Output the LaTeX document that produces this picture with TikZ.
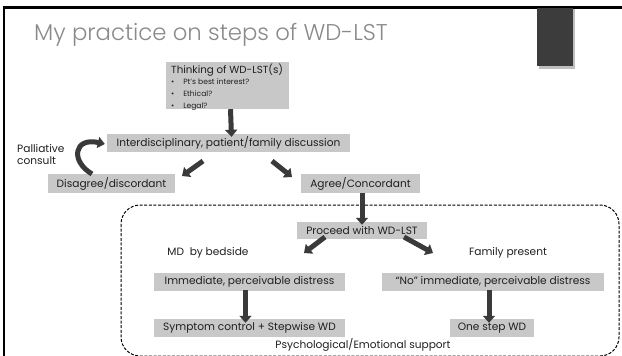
\documentclass[tikz,border=0pt]{standalone}
\usepackage{fontspec}
\setmainfont{Poppins}
\newfontfamily\titlefont{Poppins}[UprightFont=* Light]
\usetikzlibrary{arrows.meta}
\definecolor{boxgray}{HTML}{C8C8C8}
\definecolor{arrowgray}{HTML}{3A3A3A}
\definecolor{titlegray}{HTML}{8A8A8A}
\definecolor{txt}{HTML}{202020}
\definecolor{darkrect}{HTML}{3C3C3C}
\begin{document}
\begin{tikzpicture}[x=1pt,y=-1pt,
  box/.style={fill=boxgray, inner sep=0pt, text=txt, font=\fontsize{10.6}{12}\selectfont},
  lbl/.style={inner sep=0pt, text=txt, font=\fontsize{10.6}{12}\selectfont},
  barrow/.style={draw=arrowgray, line width=5pt, -{Triangle[length=7pt,width=12pt]}}
]
\useasboundingbox (0,0) rectangle (622,356);
\fill[white] (0,0) rectangle (622,356);
% frame
\draw[line width=2.5pt] (4,360) -- (4,7.5) -- (630,7.5);
% dark tab
\fill[black!25] (538.5,9) rectangle (574.5,68.5);
\fill[darkrect] (537,8) rectangle (573,66);
% title
\node[anchor=base west, inner sep=0pt, text=titlegray, font=\titlefont\fontsize{22.8}{26}\selectfont] (title) at (34,41) {My practice on steps of WD-LST};
% dashed region
\draw[dashed, dash pattern=on 3pt off 1.6pt, line width=1pt, rounded corners=19pt] (121,205) rectangle (619,356);
% boxes
\node[box, minimum width=123pt, minimum height=47pt] (think) at (227.5,85.5) {};
\node[anchor=north west, inner sep=0pt, text=txt, align=left] (thinktxt) at (171,64)
 {{\fontsize{10.3}{12.5}\selectfont Thinking of WD-LST(s)}\\[-1.5pt]
  {\fontsize{7.6}{10.5}\selectfont \textbullet\hspace{9pt}Pt’s best interest?}\\
  {\fontsize{7.6}{10.5}\selectfont \textbullet\hspace{9pt}Ethical?}\\
  {\fontsize{7.6}{10.5}\selectfont \textbullet\hspace{9pt}Legal?}};
\node[box, minimum width=243pt, minimum height=18pt] (inter) at (228.5,143) {Interdisciplinary, patient/family discussion};
\node[box, minimum width=127pt, minimum height=19pt] (disag) at (111.5,183.5) {Disagree/discordant};
\node[box, minimum width=119pt, minimum height=19pt] (agree) at (360.5,183.5) {Agree/Concordant};
\node[box, minimum width=130pt, minimum height=17pt] (proceed) at (362,230.5) {Proceed with WD-LST};
\node[box, minimum width=191pt, minimum height=18pt] (immed) at (249.5,282) {Immediate, perceivable distress};
\node[box, minimum width=222pt, minimum height=18pt] (nodist) at (493,282) {“No” immediate, perceivable distress};
\node[box, minimum width=191pt, minimum height=18pt] (sympt) at (249.5,328) {Symptom control + Stepwise WD};
\node[box, minimum width=84pt, minimum height=18pt] (onestep) at (492,328) {One step WD};
% labels
\node[lbl, anchor=west, align=left] (pall) at (17,154.5) {Palliative\\consult};
\node[lbl] (md) at (208,253) {MD\ \ by bedside};
\node[lbl] (fam) at (508,253) {Family present};
\node[lbl] (psych) at (363,345) {Psychological/Emotional support};
% arrow coordinates
\coordinate (a1s) at (203,161);
\coordinate (a1e) at (182,176);
\coordinate (a2s) at (272,161);
\coordinate (a2e) at (292,177);
\coordinate (a3s) at (325,237);
\coordinate (a3e) at (304,253);
\coordinate (a4s) at (404,237);
\coordinate (a4e) at (433,253);
\coordinate (cstart) at (92,174);
% arrows
\draw[barrow] ([xshift=3pt]think.south) -- ([xshift=3pt,yshift=-3pt]inter.north);
\draw[barrow] (a1s) -- (a1e);
\draw[barrow] (a2s) -- (a2e);
\draw[barrow] ([xshift=1.5pt]agree.south) -- ([yshift=-3pt]proceed.north);
\draw[barrow] (a3s) -- (a3e);
\draw[barrow] (a4s) -- (a4e);
\draw[barrow] ([xshift=-4pt,yshift=1pt]immed.south) -- ([xshift=-4pt,yshift=-4pt]sympt.north);
\draw[barrow] ([xshift=-4pt,yshift=1pt]nodist.south) -- ([xshift=-3pt,yshift=-4pt]onestep.north);
\draw[barrow, line width=5pt, -{Triangle[length=7pt,width=11pt]}] (cstart) .. controls (70,161) and (74,137) .. ([xshift=-2pt,yshift=-1pt]inter.west);
\end{tikzpicture}
\end{document}
